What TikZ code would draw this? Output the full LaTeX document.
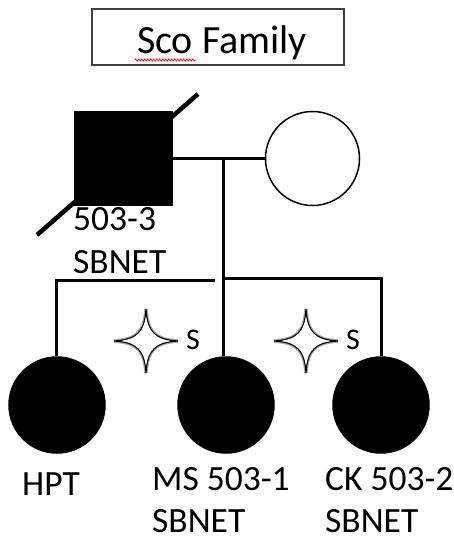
\documentclass[tikz,border=0pt]{standalone}
\usepackage{fontspec}
\setmainfont{Carlito}
\usetikzlibrary{decorations.pathmorphing}
\tikzset{
  lbl/.style={font=\fontsize{35.5}{40}\selectfont, inner sep=0pt, anchor=base west},
  line/.style={line width=3pt, black},
  person/.style={draw=black, line width=1.5pt, inner sep=0pt},
  starsty/.style={draw=black, line width=1.1pt, fill=white},
  starshadow/.style={draw=black!35, line width=3.5pt},
  slabel/.style={font=\fontsize{30}{34}\selectfont, inner sep=0pt, anchor=base},
}
\newcommand\mystar[2]{%
  \draw[#2,shift={#1}] (32,0) .. controls (9,-1.5) and (1.5,-9) .. (0,-32)
    .. controls (-1.5,-9) and (-9,-1.5) .. (-32,0)
    .. controls (-9,1.5) and (-1.5,9) .. (0,32)
    .. controls (1.5,9) and (9,1.5) .. cycle;}
\begin{document}
\begin{tikzpicture}[x=1pt,y=-1pt]
\useasboundingbox[fill=white] (0,0) rectangle (454,541);
% title
\node[draw=black!75, line width=1.6pt, minimum width=252pt, minimum height=56pt, inner sep=0pt] (title) at (218,37) {};
\node[font=\fontsize{40}{46}\selectfont, inner sep=0pt, anchor=base] (titletext) at (222,53) {Sco Family};
\draw[red, line width=0.6pt, decorate, decoration={zigzag, amplitude=1.2pt, segment length=3pt}] (135,60) -- (196,60);
% parents
\node[person, fill=black, minimum width=97pt, minimum height=93pt] (father) at (123.5,158.5) {};
\node[person, circle, fill=white, minimum size=94pt] (mother) at (312.5,158.5) {};
\draw[line width=4.5pt] (37,235) -- (198,94);
\draw[line] (father.east) -- (mother.west);
\coordinate (m) at (223.5,158.5);
% children
\node[person, circle, fill=black, minimum size=96pt] (c1) at (57,405) {};
\node[person, circle, fill=black, minimum size=96pt] (c2) at (226,405) {};
\node[person, circle, fill=black, minimum size=96pt] (c3) at (381,405) {};
\draw[line] (m) -- (m |- c2.north);
\coordinate (sl) at (56,280);
\coordinate (slend) at (215,280);
\coordinate (sr0) at (223.5,278.5);
\coordinate (sr) at (381,278.5);
\draw[line] (slend) -- (sl) -- (sl |- c1.north);
\draw[line] (sr0) -- (sr) -- (c3.north);
% labels
\node[lbl] (f1) at (73,230) {503-3};
\node[lbl] (f2) at (73,273) {SBNET};
\node[lbl] (l1) at (22,495) {HPT};
\node[lbl] (l2) at (152,490) {MS 503-1};
\node[lbl] (l3) at (152,532) {SBNET};
\node[lbl] (l4) at (325,490) {CK 503-2};
\node[lbl] (l5) at (325,532) {SBNET};
% stars
\mystar{(146,341)}{starshadow}
\mystar{(146,341)}{starsty}
\mystar{(306,341)}{starshadow}
\mystar{(306,341)}{starsty}
\node[slabel] (s1) at (193,349) {S};
\node[slabel] (s2) at (353,349) {S};
\end{tikzpicture}
\end{document}
